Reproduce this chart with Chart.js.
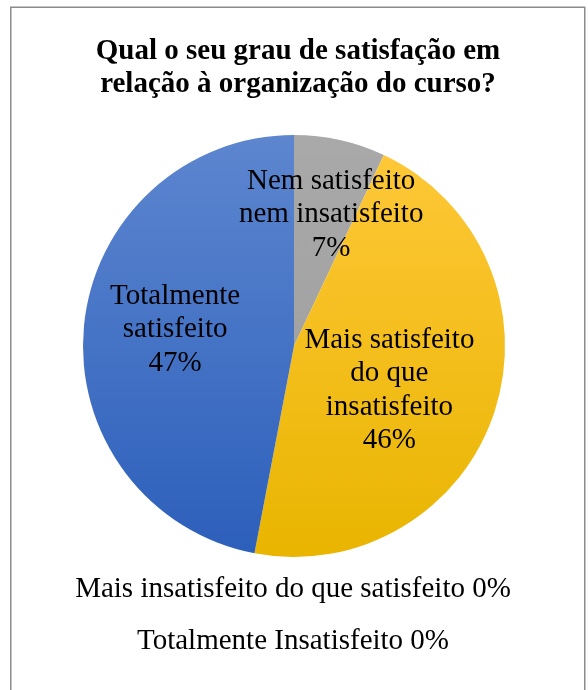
<!DOCTYPE html>
<html>
<head>
<meta charset="utf-8">
<style>
  html, body { margin: 0; padding: 0; background: #ffffff; }
  #wrap { width: 588px; height: 690px; }
</style>
<script src="https://cdn.jsdelivr.net/npm/chart.js@4.4.1/dist/chart.umd.min.js"></script>
</head>
<body>
<div id="wrap"><canvas id="chart" width="588" height="690"></canvas></div>
<script>
// Survey answers, clockwise from 12 o'clock
const categories = [
  'Nem satisfeito nem insatisfeito',
  'Mais satisfeito do que insatisfeito',
  'Totalmente satisfeito',
  'Mais insatisfeito do que satisfeito',
  'Totalmente Insatisfeito'
];
const percentages = [7, 46, 47, 0, 0];

// How each category name is broken over lines inside its slice
const labelLines = [
  ['Nem satisfeito', 'nem insatisfeito'],
  ['Mais satisfeito', 'do que', 'insatisfeito'],
  ['Totalmente', 'satisfeito'],
  ['Mais insatisfeito do que satisfeito'],
  ['Totalmente Insatisfeito']
];

const titleLines = ['Qual o seu grau de satisfação em', 'relação à organização do curso?'];

// Placement of the in-slice labels: angle shift (deg) from slice middle, distance as fraction of radius
const labelPlacement = [
  { shift: 3.0, dist: 0.655 },
  { shift: 6.0, dist: 0.495 },
  { shift: 3.3, dist: 0.57 }
];

const FONT = "'Liberation Serif', 'Times New Roman', serif";
const LINE_H = 33.3;

// Vertical gradient fills spanning the pie's bounding box
const gradientStops = [
  ['#a9a9a9', '#9c9c9c'],
  ['#ffc83a', '#e9b500'],
  ['#5d86cf', '#2c5fbb'],
  ['#c0c0c0', '#c0c0c0'],
  ['#c0c0c0', '#c0c0c0']
];

function sliceFill(ctx) {
  const area = ctx.chart.chartArea;
  if (!area) return gradientStops[ctx.dataIndex][0];
  const g = ctx.chart.ctx.createLinearGradient(0, area.top, 0, area.bottom);
  const s = gradientStops[ctx.dataIndex];
  g.addColorStop(0, s[0]);
  g.addColorStop(1, s[1]);
  return g;
}

const framePlugin = {
  id: 'frame',
  beforeDraw(chart) {
    const c = chart.ctx;
    c.save();
    c.fillStyle = '#ffffff';
    c.fillRect(0, 0, chart.width, chart.height);
    c.strokeStyle = '#8c8c8c';
    c.lineWidth = 1.5;
    c.strokeRect(10.75, 7.25, 574, 700);
    c.restore();
  }
};

const textPlugin = {
  id: 'texts',
  afterDatasetsDraw(chart) {
    const c = chart.ctx;
    const meta = chart.getDatasetMeta(0);
    c.save();
    c.fillStyle = '#000000';
    c.textAlign = 'center';
    c.textBaseline = 'middle';

    // title
    c.font = 'bold 29px ' + FONT;
    titleLines.forEach((t, i) => c.fillText(t, 298, 52 + i * 33));

    c.font = '29px ' + FONT;
    let zeroRow = 0;
    meta.data.forEach((arc, i) => {
      const p = arc.getProps(['x', 'y', 'startAngle', 'endAngle', 'outerRadius'], true);
      const val = percentages[i];
      if (val > 0) {
        const pl = labelPlacement[i];
        const mid = (p.startAngle + p.endAngle) / 2 + pl.shift * Math.PI / 180;
        const r = p.outerRadius * pl.dist;
        const cx = p.x + Math.cos(mid) * r;
        const cy = p.y + Math.sin(mid) * r + 2;
        const lines = labelLines[i].concat([val + '%']);
        const top = cy - (lines.length - 1) * LINE_H / 2;
        lines.forEach((t, k) => c.fillText(t, cx, top + k * LINE_H));
      } else {
        // empty categories are listed under the pie
        const y = p.y + p.outerRadius + 32 + zeroRow * 52;
        c.fillText(labelLines[i].join(' ') + ' ' + val + '%', p.x - 1, y);
        zeroRow++;
      }
    });
    c.restore();
  }
};

new Chart(document.getElementById('chart'), {
  type: 'pie',
  data: {
    labels: categories,
    datasets: [{
      data: percentages,
      backgroundColor: sliceFill,
      borderWidth: 0
    }]
  },
  options: {
    responsive: false,
    animation: false,
    layout: { padding: { left: 83, right: 83, top: 135, bottom: 133 } },
    plugins: {
      legend: { display: false },
      tooltip: { enabled: false },
      title: { display: false }
    }
  },
  plugins: [framePlugin, textPlugin]
});
</script>
</body>
</html>
